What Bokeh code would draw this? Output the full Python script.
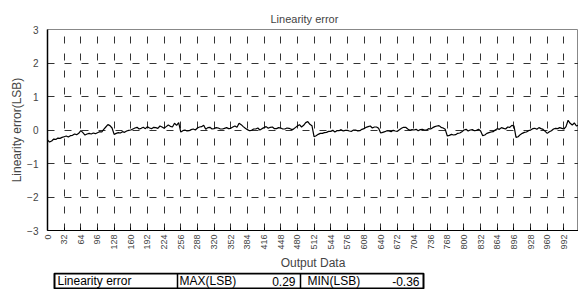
import math
from bokeh.plotting import figure
from bokeh.models import Range1d, FixedTicker
from bokeh.layouts import column
from bokeh.embed import file_html
from bokeh.resources import INLINE
from bokeh.core.properties import value

# ---- data ----
codes = list(range(0, 1024, 4))
err = [
    -0.30, -0.36, -0.33, -0.27, -0.28, -0.24, -0.25, -0.22, -0.20, -0.18, -0.21, -0.17, -0.16, -0.12, -0.14, -0.10,
    -0.02, -0.08, -0.15, -0.12, -0.10, -0.12, -0.09, -0.11, -0.08, -0.05, -0.06, 0.02, 0.09, 0.16, 0.13, 0.06,
    -0.13, -0.10, -0.08, -0.09, -0.05, -0.07, -0.03, -0.01, 0.00, 0.03, 0.06, 0.08, 0.03, 0.05, 0.08, 0.04,
    0.10, 0.06, 0.04, 0.08, 0.07, 0.05, 0.12, 0.09, 0.05, 0.10, 0.15, 0.11, 0.09, 0.20, 0.14, 0.22,
    -0.06, -0.02, 0.00, -0.03, -0.02, 0.01, 0.03, 0.00, 0.06, 0.09, 0.10, 0.14, 0.02, 0.07, 0.08, 0.03,
    0.04, 0.07, 0.06, 0.03, 0.03, 0.05, 0.07, 0.04, 0.05, 0.09, 0.12, 0.08, 0.20, 0.16, 0.10, 0.05,
    0.01, -0.02, -0.01, 0.03, 0.03, 0.06, 0.00, 0.04, 0.07, 0.10, 0.05, 0.08, 0.09, 0.04, 0.04, 0.07,
    0.06, 0.03, 0.03, 0.06, 0.05, 0.02, 0.02, 0.07, 0.12, 0.16, 0.09, 0.14, 0.22, 0.25, 0.17, 0.13,
    -0.20, -0.17, -0.13, -0.10, -0.10, -0.08, -0.07, -0.04, -0.04, -0.01, -0.06, -0.02, -0.02, 0.01, -0.03, -0.01,
    -0.01, -0.03, -0.04, 0.00, 0.00, -0.03, -0.02, 0.02, 0.04, 0.08, 0.10, 0.12, 0.06, 0.09, 0.09, 0.05,
    -0.09, -0.07, -0.05, -0.02, -0.03, -0.05, -0.01, -0.03, -0.04, 0.01, 0.05, 0.08, 0.08, 0.03, -0.01, 0.01,
    0.00, 0.02, -0.02, 0.01, 0.02, 0.00, 0.00, 0.04, 0.03, 0.07, 0.10, 0.12, 0.13, 0.08, 0.06, 0.02,
    -0.18, -0.16, -0.13, -0.15, -0.14, -0.10, -0.09, -0.05, 0.00, 0.02, -0.03, 0.00, 0.01, -0.02, -0.01, 0.02,
    -0.03, -0.17, -0.15, -0.10, -0.08, -0.06, -0.05, 0.00, 0.04, 0.02, 0.07, 0.05, 0.03, 0.09, 0.08, 0.14,
    0.12, -0.22, -0.20, -0.14, -0.10, -0.07, -0.06, -0.02, 0.00, 0.04, 0.05, 0.02, 0.07, 0.04, 0.02, -0.04,
    -0.10, -0.05, -0.02, 0.03, 0.05, 0.04, 0.07, 0.05, 0.03, 0.10, 0.29, 0.20, 0.15, 0.21, 0.12, 0.14,
]
x_ticks = list(range(0, 1024, 32))
y_ticks = [-3, -2, -1, 0, 1, 2, 3]
title_text = "Linearity error"
x_label = "Output Data"
y_label = "Linearity error(LSB)"
table_name = "Linearity error"
max_label = "MAX(LSB)"
min_label = "MIN(LSB)"

FONT = "Liberation Sans"
LEFT = 47      # frame left (px)
TOTAL_W = 578

p = figure(width=TOTAL_W, height=272, x_range=Range1d(0, 1020), y_range=Range1d(-3, 3),
           output_backend="svg", toolbar_location=None,
           min_border_left=LEFT, min_border_right=0, min_border_top=29, min_border_bottom=42,
           title=title_text)
p.title.align = "left"
p.title.offset = 223
p.title.text_font = FONT
p.title.text_font_size = "11px"
p.title.text_font_style = "normal"
p.title.standoff = 9

p.outline_line_color = "#888888"

p.xgrid.ticker = FixedTicker(ticks=x_ticks)
p.ygrid.ticker = FixedTicker(ticks=y_ticks)
for g in (p.xgrid, p.ygrid):
    g.grid_line_color = "#333333"
    g.grid_line_dash = "7 10"
    g.grid_line_width = 1

p.line(codes, err, line_color="black", line_width=1.2)

xa = p.xaxis[0]
xa.ticker = FixedTicker(ticks=x_ticks)
xa.major_label_orientation = math.pi / 2
xa.major_label_text_font = FONT
xa.major_label_text_font_size = "9px"
xa.major_label_standoff = 4
xa.major_tick_in = 3
xa.major_tick_out = 0
xa.minor_tick_line_color = None
xa.axis_label = x_label
xa.axis_label_text_font = FONT
xa.axis_label_text_font_size = "12px"
xa.axis_label_text_font_style = "normal"
xa.axis_label_standoff = 3
xa.axis_line_color = "black"

ya = p.yaxis[0]
ya.ticker = FixedTicker(ticks=y_ticks)
ya.major_label_text_font = FONT
ya.major_label_text_font_size = "10px"
ya.major_label_standoff = 9
ya.major_tick_in = 0
ya.major_tick_out = 0
ya.minor_tick_line_color = None
ya.axis_label = y_label
ya.axis_label_text_font = FONT
ya.axis_label_text_font_size = "12px"
ya.axis_label_text_font_style = "normal"
ya.axis_label_standoff = 0
ya.axis_line_color = "black"
ya.axis_line_width = 1.5

# ---- summary table (x range expressed in page pixels over the frame) ----
t = figure(width=TOTAL_W, height=17, x_range=Range1d(LEFT, TOTAL_W), y_range=Range1d(0, 17),
           output_backend="svg", toolbar_location=None,
           min_border_left=LEFT, min_border_right=0, min_border_top=0, min_border_bottom=0,
           x_axis_type=None, y_axis_type=None, outline_line_color=None)
t.quad(left=[54], right=[423], bottom=[1], top=[16], fill_color=None,
       line_color="black", line_width=2)
t.segment(x0=[177, 300], y0=[1, 1], x1=[177, 300], y1=[16, 16],
          line_color="black", line_width=1.5)
t.text(x=[57, 179, 307], y=[8.5, 8.5, 8.5], text=[table_name, max_label, min_label],
       text_baseline="middle", text_align="left",
       text_font=value(FONT), text_font_size="12px", text_color="black")
t.text(x=[295, 419], y=[8.5, 8.5], text=[f"{max(err):.2f}", f"{min(err):.2f}"],
       text_baseline="middle", text_align="right",
       text_font=value(FONT), text_font_size="12px", text_color="black")

layout = column(p, t, spacing=0)
open("out.html", "w").write(file_html(layout, INLINE))
